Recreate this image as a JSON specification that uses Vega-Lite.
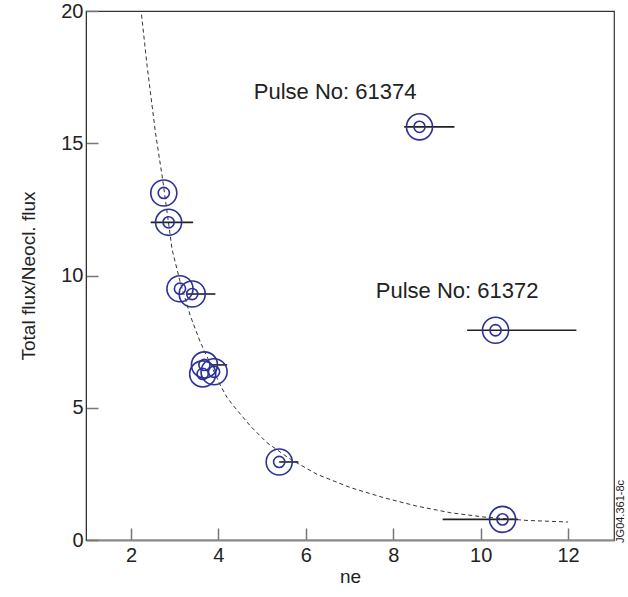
{
  "$schema": "https://vega.github.io/schema/vega-lite/v6.json",
  "width": 528,
  "height": 529,
  "autosize": "none",
  "padding": {"left": 86, "top": 11, "right": 14, "bottom": 57},
  "background": "white",
  "config": {
    "font": "Liberation Sans",
    "view": {"stroke": "#333", "strokeWidth": 1.2},
    "axis": {"grid": false, "labelFont": "Liberation Sans", "titleFont": "Liberation Sans", "labelColor": "#222", "titleColor": "#222", "titleFontWeight": "normal", "labelFontSize": 20, "titleFontSize": 19, "tickColor": "#777", "tickWidth": 1.5, "tickSize": -12}
  },
  "datasets": {
    "curve": [
      {"ne": 2.24, "r": 19.86}, {"ne": 2.37, "r": 17.9}, {"ne": 2.56, "r": 15.39}, {"ne": 2.73, "r": 13.56},
      {"ne": 2.94, "r": 10.98}, {"ne": 3.13, "r": 9.72}, {"ne": 3.36, "r": 8.46}, {"ne": 3.59, "r": 7.46},
      {"ne": 4.05, "r": 5.83}, {"ne": 4.2, "r": 5.38}, {"ne": 4.35, "r": 5.06}, {"ne": 4.73, "r": 4.31},
      {"ne": 5.11, "r": 3.68}, {"ne": 5.65, "r": 3.05}, {"ne": 6.26, "r": 2.48}, {"ne": 7.02, "r": 1.98},
      {"ne": 7.78, "r": 1.6}, {"ne": 8.54, "r": 1.28}, {"ne": 9.31, "r": 1.03}, {"ne": 10.07, "r": 0.87},
      {"ne": 11.06, "r": 0.74}, {"ne": 12.0, "r": 0.68}
    ],
    "pts": [
      {"ne": 2.75, "r": 13.12, "lo": null, "hi": null},
      {"ne": 2.86, "r": 12.01, "lo": 2.45, "hi": 3.42},
      {"ne": 3.12, "r": 9.5, "lo": null, "hi": null},
      {"ne": 3.4, "r": 9.3, "lo": 3.26, "hi": 3.93},
      {"ne": 3.68, "r": 6.62, "lo": 3.84, "hi": 4.2},
      {"ne": 3.64, "r": 6.28, "lo": null, "hi": null},
      {"ne": 3.9, "r": 6.36, "lo": null, "hi": null},
      {"ne": 5.39, "r": 2.95, "lo": 5.39, "hi": 5.83},
      {"ne": 8.6, "r": 15.62, "lo": 8.25, "hi": 9.4},
      {"ne": 10.34, "r": 7.93, "lo": 9.69, "hi": 12.19},
      {"ne": 10.5, "r": 0.78, "lo": 9.13, "hi": 10.85}
    ],
    "labels": [
      {"ne": 6.67, "r": 16.95, "t": "Pulse No: 61374"},
      {"ne": 9.46, "r": 9.4, "t": "Pulse No: 61372"}
    ],
    "stamp": [
      {"ne": 13.22, "r": 1.08, "t": "JG04.361-8c"}
    ]
  },
  "encoding": {
    "x": {"field": "ne", "type": "quantitative", "scale": {"domain": [0.97, 13.05], "nice": false, "zero": false},
          "axis": {"values": [2, 4, 6, 8, 10, 12], "title": "ne", "domainColor": "#888", "domainWidth": 2, "labelPadding": 17, "titlePadding": 2}},
    "y": {"field": "r", "type": "quantitative", "scale": {"domain": [0, 20], "nice": false},
          "axis": {"values": [0, 5, 10, 15, 20], "title": "Total flux/Neocl. flux", "domainColor": "#333", "labelPadding": 15, "titlePadding": 22}}
  },
  "layer": [
    {"data": {"name": "curve"}, "mark": {"type": "line", "color": "#333", "strokeWidth": 1, "strokeDash": [4, 3]}, "encoding": {}},
    {"data": {"name": "pts"}, "mark": {"type": "rule", "color": "#222", "strokeWidth": 1.6},
     "encoding": {"x": {"field": "lo", "type": "quantitative"}, "x2": {"field": "hi"}}},
    {"data": {"name": "pts"}, "mark": {"type": "point", "shape": "circle", "filled": false, "size": 680, "color": "#2b3196", "strokeWidth": 1.6, "opacity": 1}, "encoding": {}},
    {"data": {"name": "pts"}, "mark": {"type": "point", "shape": "circle", "filled": false, "size": 125, "color": "#2b3196", "strokeWidth": 1.6, "opacity": 1}, "encoding": {}},
    {"data": {"name": "labels"}, "mark": {"type": "text", "fontSize": 22, "color": "#222", "font": "Liberation Sans"},
     "encoding": {"text": {"field": "t"}}},
    {"data": {"name": "stamp"}, "mark": {"type": "text", "fontSize": 11, "angle": 270, "color": "#222", "font": "Liberation Sans"},
     "encoding": {"text": {"field": "t"}}}
  ]
}
